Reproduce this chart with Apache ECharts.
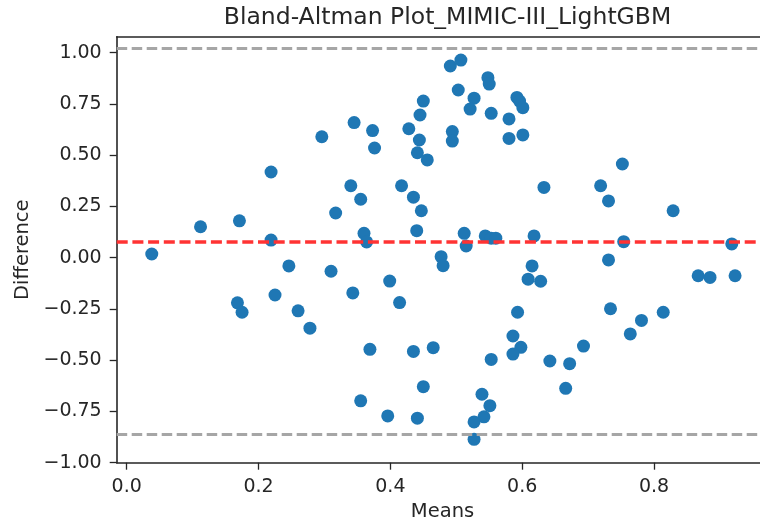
<!DOCTYPE html>
<html>
<head>
<meta charset="utf-8">
<script src="https://cdn.jsdelivr.net/npm/echarts@6/dist/echarts.min.js"></script>
<style>
html,body{margin:0;padding:0;background:#fff;}
#chart{width:760px;height:527px;}
</style>
</head>
<body>
<div id="chart"></div>
<script>
// Means (x) of each pair
const means = [
  0.038, 0.112, 0.171, 0.219, 0.219, 0.296, 0.317, 0.246, 0.345, 0.340,
  0.355, 0.373, 0.376, 0.360, 0.364, 0.417, 0.428, 0.435, 0.447, 0.440,
  0.445, 0.450, 0.444, 0.441, 0.456, 0.477, 0.480, 0.512, 0.515, 0.491,
  0.507, 0.503, 0.494, 0.494, 0.527, 0.521, 0.548, 0.550, 0.553, 0.544,
  0.553, 0.560, 0.580, 0.580, 0.592, 0.596, 0.601, 0.601, 0.618, 0.633,
  0.615, 0.752, 0.719, 0.731, 0.829, 0.754, 0.918, 0.731, 0.168, 0.175,
  0.225, 0.260, 0.278, 0.310, 0.343, 0.369, 0.355, 0.399, 0.414, 0.435,
  0.465, 0.396, 0.441, 0.450, 0.553, 0.539, 0.551, 0.542, 0.527, 0.527,
  0.593, 0.586, 0.598, 0.586, 0.609, 0.628, 0.642, 0.666, 0.734, 0.672,
  0.693, 0.764, 0.781, 0.814, 0.867, 0.885, 0.923
];
// Differences (y) of each pair
const differences = [
  0.018, 0.151, 0.180, 0.418, 0.086, 0.590, 0.218, -0.040, 0.659, 0.351,
  0.285, 0.620, 0.535, 0.119, 0.077, 0.351, 0.629, 0.295, 0.229, 0.132,
  0.696, 0.764, 0.574, 0.512, 0.477, 0.005, -0.039, 0.119, 0.057, 0.935,
  0.964, 0.818, 0.615, 0.569, 0.778, 0.725, 0.878, 0.847, 0.704, 0.106,
  0.095, 0.095, 0.677, 0.582, 0.782, 0.764, 0.732, 0.599, 0.106, 0.343,
  -0.040, 0.457, 0.351, 0.277, 0.229, 0.078, 0.067, -0.011, -0.220, -0.266,
  -0.182, -0.259, -0.344, -0.066, -0.172, -0.447, -0.698, -0.114, -0.219, -0.457,
  -0.439, -0.772, -0.783, -0.629, -0.496, -0.666, -0.722, -0.776, -0.801, -0.886,
  -0.266, -0.382, -0.437, -0.470, -0.105, -0.115, -0.504, -0.637, -0.249, -0.517,
  -0.431, -0.372, -0.306, -0.266, -0.088, -0.096, -0.088
];
const meanDiff = 0.079;
const upperLoA = 1.021;
const lowerLoA = -0.864;
const xTicks = [0.0, 0.2, 0.4, 0.6, 0.8];
const yTicks = [-1.0, -0.75, -0.5, -0.25, 0.0, 0.25, 0.5, 0.75, 1.0];
const titleText = 'Bland-Altman Plot_MIMIC-III_LightGBM';
const xName = 'Means';
const yName = 'Difference';

const points = means.map((m, i) => [m, differences[i]]);
const FONT = 'DejaVu Sans';
const TXT = '#262626';

const chart = echarts.init(document.getElementById('chart'), null, {renderer: 'canvas'});
chart.setOption({
  backgroundColor: '#fff',
  animation: false,
  title: {
    text: titleText,
    left: 442.5,
    top: 1,
    textAlign: 'center',
    textStyle: {fontFamily: FONT, fontSize: 23.5, fontWeight: 'normal', color: TXT}
  },
  grid: {left: 116.7, top: 36.7, right: -8.3, bottom: 64.3, containLabel: false, outerBoundsMode: 'none'},
  xAxis: [{
    type: 'value',
    min: -0.0152, max: 0.9734,
    name: xName, nameLocation: 'middle', nameGap: 38,
    nameTextStyle: {fontFamily: FONT, fontSize: 19.5, color: TXT},
    axisLine: {show: true, onZero: false, lineStyle: {color: TXT, width: 1.6}},
    axisTick: {show: true, inside: false, length: 7, customValues: xTicks, lineStyle: {color: TXT, width: 1.3}},
    axisLabel: {show: true, margin: 15, customValues: xTicks, fontFamily: FONT, fontSize: 19, color: TXT,
      formatter: v => v.toFixed(1)},
    splitLine: {show: false}
  }, {
    type: 'value', position: 'top',
    min: -0.0152, max: 0.9734,
    axisLine: {show: true, onZero: false, lineStyle: {color: TXT, width: 1.6}},
    axisTick: {show: false}, axisLabel: {show: false}, splitLine: {show: false}
  }],
  yAxis: {
    type: 'value',
    min: -1.0, max: 1.078,
    name: yName, nameLocation: 'middle', nameGap: 78, nameRotate: 90,
    nameTextStyle: {fontFamily: FONT, fontSize: 19.5, color: TXT},
    axisLine: {show: true, onZero: false, lineStyle: {color: TXT, width: 1.6}},
    axisTick: {show: true, inside: false, length: 7, customValues: yTicks, lineStyle: {color: TXT, width: 1.3}},
    axisLabel: {show: true, margin: 15, customValues: yTicks, fontFamily: FONT, fontSize: 19, color: TXT,
      formatter: v => (v < 0 ? '\u2212' : '') + Math.abs(v).toFixed(2)},
    splitLine: {show: false}
  },
  series: [{
    type: 'scatter',
    xAxisIndex: 0,
    data: points,
    symbol: 'circle',
    symbolSize: 13,
    itemStyle: {color: '#1f77b4', opacity: 1},
    z: 2
  }, {
    type: 'scatter',
    xAxisIndex: 0,
    data: [],
    z: 5,
    markLine: {
      silent: true,
      symbol: 'none',
      label: {show: false},
      animation: false,
      data: [
        {yAxis: upperLoA, lineStyle: {color: '#a6a6a6', width: 3, type: [10.5, 4.5]}},
        {yAxis: lowerLoA, lineStyle: {color: '#a6a6a6', width: 3, type: [10.5, 4.5]}},
        {yAxis: meanDiff, lineStyle: {color: '#ff3333', width: 3.5, type: [11, 4.7]}}
      ]
    }
  }]
});
</script>
</body>
</html>
